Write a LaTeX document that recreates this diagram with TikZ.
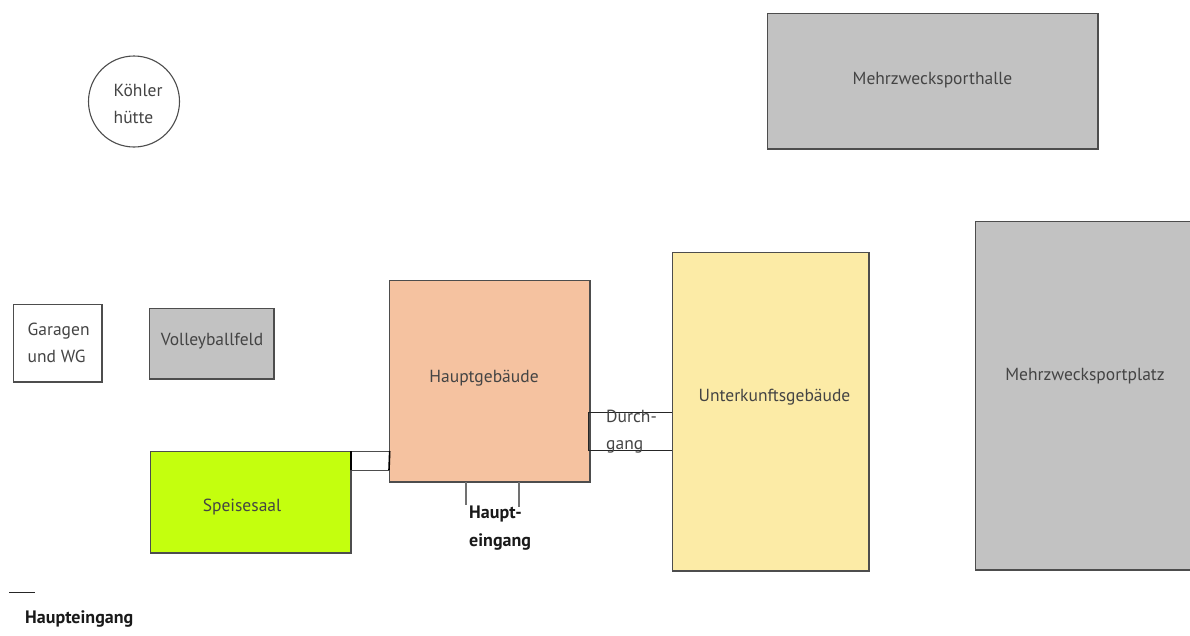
\documentclass[tikz,border=0pt]{standalone}
\usepackage{fontspec}
\setmainfont{PT Sans}
\definecolor{grayfill}{HTML}{C2C2C2}
\definecolor{hauptfill}{HTML}{F5C2A0}
\definecolor{unterfill}{HTML}{FCEBA6}
\definecolor{speisefill}{HTML}{C4FF0E}
\definecolor{edge}{HTML}{4D4D4D}
\definecolor{txt}{HTML}{444444}
\newcommand{\bx}[6]{\node[room,#6,minimum width=#4-#2,minimum height=#5-#3] (#1) at (#2,#3) {};}
\tikzset{
 x=1pt,y=-1pt,
 room/.style={draw=edge,line width=1.05pt,anchor=north west,inner sep=0,outer sep=0},
 lab/.style={text=txt,font=\fontsize{17.5}{27}\selectfont,inner sep=0,align=left},
 strong/.style={text=black!90,font=\bfseries\fontsize{18}{28}\selectfont,inner sep=0,align=left},
 wire/.style={draw=black!85,line width=0.9pt},
 stub/.style={draw=edge!80,line width=1.1pt},
}
\begin{document}
\begin{tikzpicture}
\useasboundingbox (0,0) rectangle (1190,635);
\fill[white] (0,0) rectangle (1190,635);
\bx{halle}{767.2}{13.2}{1098}{149}{fill=grayfill}
\bx{platz}{975.2}{221.2}{1192}{570}{fill=grayfill}
\bx{unter}{672.2}{252.2}{869}{571}{fill=unterfill}
\bx{haupt}{389.7}{280.2}{590}{482}{fill=hauptfill}
\bx{speise}{150.2}{451.2}{351}{553}{fill=speisefill}
\bx{volley}{149.2}{308.2}{274}{379}{fill=grayfill}
\bx{garage}{13.2}{304.2}{102}{382}{fill=white}
\node[draw=edge,line width=1.1pt,circle,minimum size=91,inner sep=0] (koehler) at (134,101.5) {};
% link between Speisesaal and Hauptgebaeude
\coordinate (la) at (speise.north east);
\coordinate (lb) at (haupt.west |- speise.north);
\coordinate (lc) at (351,470);
\coordinate (ld) at (389,470);
\draw[wire,draw=edge] (la) -- (lb);
\draw[wire,draw=edge] (lc) -- (ld);
\draw[wire,draw=black,line width=1.6pt] (la) -- (lc);
\draw[wire,draw=black,line width=1.6pt] (lb) -- (ld);
% Durchgang
\coordinate (da) at (588,412);
\coordinate (db) at (588,450);
\coordinate (dc) at (unter.west |- da);
\coordinate (dd) at (unter.west |- db);
\draw[wire] (dc) -- (da) -- (db) -- (dd);
% Haupteingang stubs
\coordinate (ea) at (466,482);
\coordinate (eb) at (466,505);
\coordinate (ec) at (519,482);
\coordinate (ed) at (519,507);
\draw[stub] (ea) -- (eb);
\draw[stub] (ec) -- (ed);
% legend line
\coordinate (ga) at (9,592);
\coordinate (gb) at (35,592);
\draw[wire] (ga) -- (gb);
% labels
\node[lab,anchor=center] (t1) at (932.5,80) {Mehrzwecksporthalle};
\node[lab,anchor=center] (t2) at (1085,376) {Mehrzwecksportplatz};
\node[lab,anchor=center] (t3) at (774.5,397) {Unterkunftsgebäude};
\node[lab,anchor=center] (t4) at (484,378.5) {Hauptgebäude};
\node[lab,anchor=center] (t5) at (242,507) {Speisesaal};
\node[lab,anchor=center] (t6) at (212,341) {Volleyballfeld};
\node[lab,anchor=west] (t7) at (27.5,343) {Garagen\\und WG};
\node[lab,anchor=west] (t8) at (113.5,103.5) {Köhler\\hütte};
\node[lab,anchor=west] (t9) at (606,432) {Durch-\\gang};
\node[strong,anchor=west] (t10) at (469,528) {Haupt-\\eingang};
\node[strong,anchor=west] (t11) at (25,618.5) {Haupteingang};
\end{tikzpicture}
\end{document}
